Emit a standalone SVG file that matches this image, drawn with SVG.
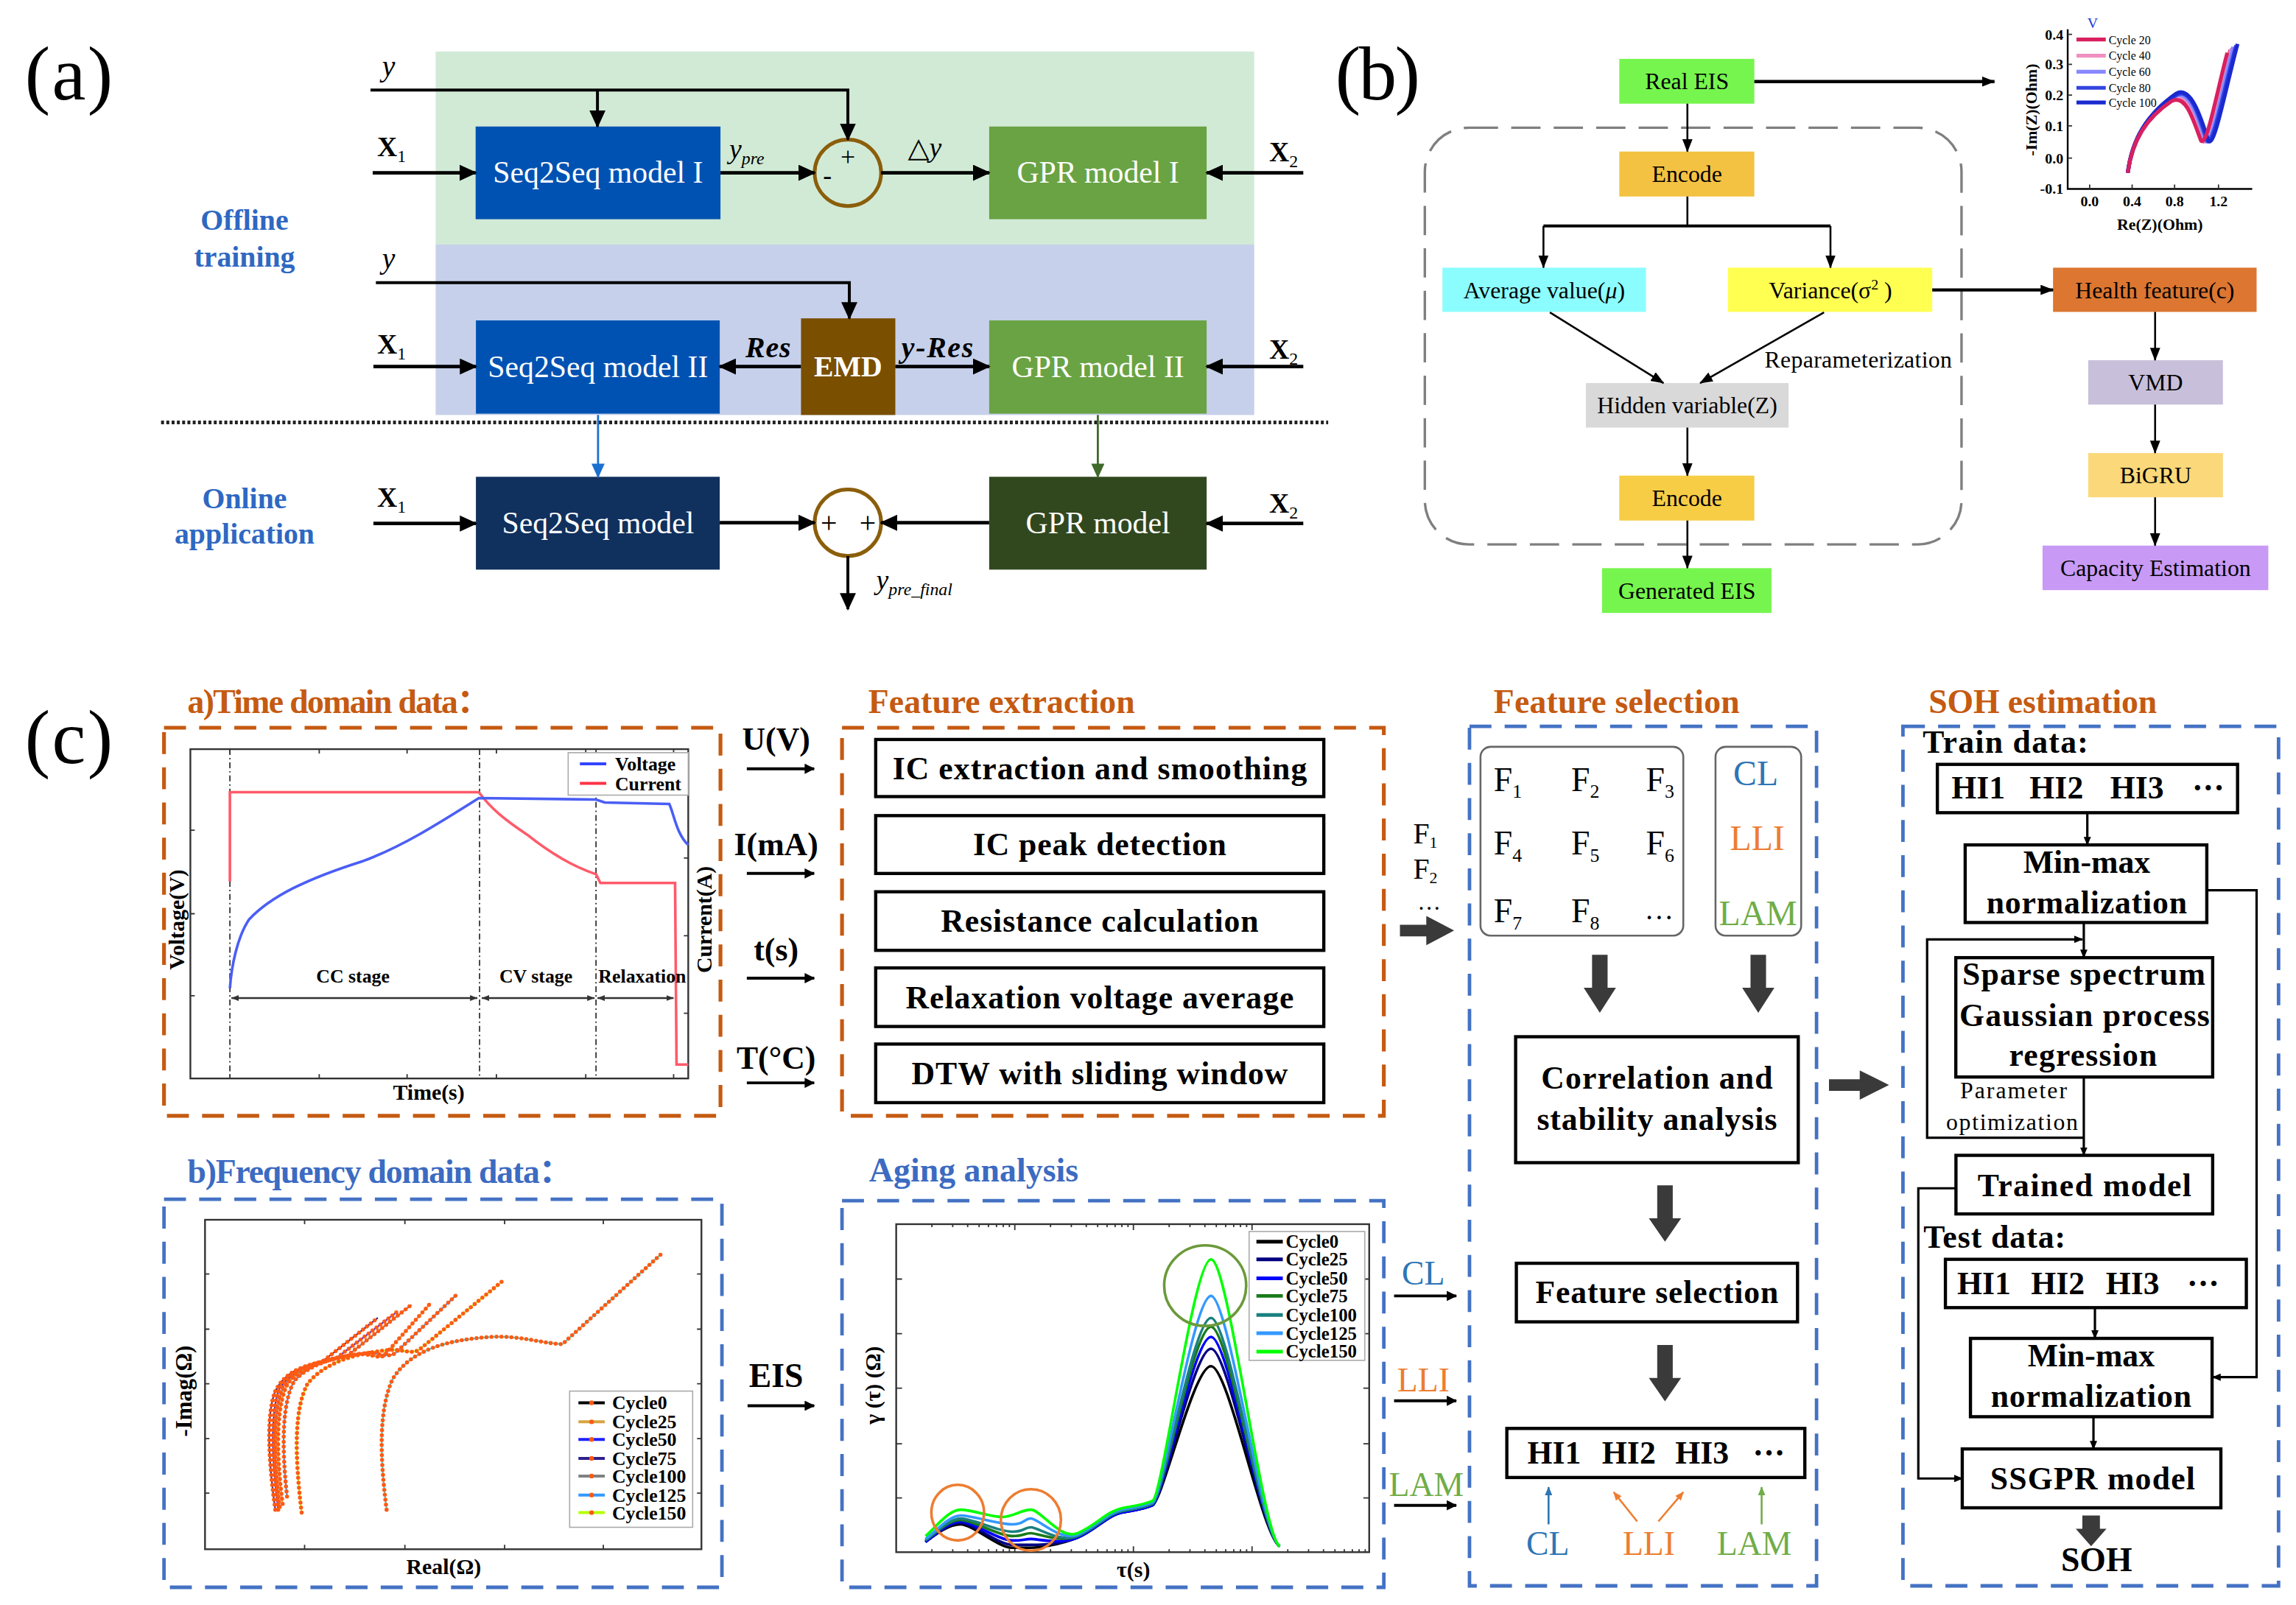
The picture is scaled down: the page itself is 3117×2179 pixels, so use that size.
<svg xmlns="http://www.w3.org/2000/svg" width="3117" height="2179" viewBox="0 0 3117 2179">
<defs>
<style>
text{font-family:"Liberation Serif","DejaVu Serif","Noto Sans CJK SC",serif;fill:#000}
.bd{font-weight:bold}
.it{font-style:italic}
.mid{text-anchor:middle}
.end{text-anchor:end}
.wt{fill:#fff;font-size:21px;text-anchor:middle}
.bt{font-size:16px;text-anchor:middle}
.ct{font-size:22px;font-weight:bold;text-anchor:middle}
.ln{fill:none;stroke:#000}
.box{fill:#fff;stroke:#000;stroke-width:2.2}
.odash{fill:none;stroke:#c55a11;stroke-width:2.6;stroke-dasharray:15 9}
.bdash{fill:none;stroke:#4472c4;stroke-width:2.4;stroke-dasharray:15 9}
.fat{fill:#3a3a3a}
.ttlO{fill:#c55a11;font-weight:bold;font-size:23px}
.ttlB{fill:#3c6bc2;font-weight:bold;font-size:23px}
.blu{fill:#2e75b6}.org{fill:#ed7d31}.grn{fill:#70ad47}
.lbl{font-weight:bold;font-size:22px;text-anchor:middle}
.pl{fill:#fff;stroke:#333;stroke-width:1.2}
.leg{fill:#fff;stroke:#aaa;stroke-width:0.8}
.lt{font-weight:bold;font-size:13px}
.dots{fill:none;stroke:#ff5a14;stroke-width:2.8;stroke-dasharray:0 3.4;stroke-linecap:round}
.tk{fill:none;stroke:#333;stroke-width:0.9}
</style>
<marker id="mA" viewBox="0 0 12 11" refX="11" refY="5.5" markerWidth="12" markerHeight="11" markerUnits="userSpaceOnUse" orient="auto"><path d="M0,0L12,5.5L0,11z" fill="#000"/></marker>
<marker id="mAb" viewBox="0 0 10 9" refX="9" refY="4.5" markerWidth="10" markerHeight="9" markerUnits="userSpaceOnUse" orient="auto"><path d="M0,0L10,4.5L0,9z" fill="#1a6fd0"/></marker>
<marker id="mAg" viewBox="0 0 10 9" refX="9" refY="4.5" markerWidth="10" markerHeight="9" markerUnits="userSpaceOnUse" orient="auto"><path d="M0,0L10,4.5L0,9z" fill="#3f6a2a"/></marker>
<marker id="mB" viewBox="0 0 9 7" refX="8.5" refY="3.5" markerWidth="9" markerHeight="7" markerUnits="userSpaceOnUse" orient="auto"><path d="M0,0L9,3.5L0,7z" fill="#000"/></marker>
<marker id="mC" viewBox="0 0 7 7" refX="6.5" refY="3.5" markerWidth="7" markerHeight="7" markerUnits="userSpaceOnUse" orient="auto"><path d="M0,0L7,3.5L0,7z" fill="#000"/></marker>
<marker id="mS" viewBox="0 0 6 5" refX="5.5" refY="2.5" markerWidth="6" markerHeight="5" markerUnits="userSpaceOnUse" orient="auto"><path d="M0,0L6,2.5L0,5z" fill="#000"/></marker>
<marker id="mD" viewBox="0 0 5 4" refX="5" refY="2" markerWidth="5" markerHeight="4" markerUnits="userSpaceOnUse" orient="auto-start-reverse"><path d="M0,0L5,2L0,4z" fill="#333"/></marker>
<marker id="mCb" viewBox="0 0 6 5" refX="5.5" refY="2.5" markerWidth="6" markerHeight="5" markerUnits="userSpaceOnUse" orient="auto"><path d="M0,0L6,2.5L0,5z" fill="#2e75b6"/></marker>
<marker id="mCo" viewBox="0 0 6 5" refX="5.5" refY="2.5" markerWidth="6" markerHeight="5" markerUnits="userSpaceOnUse" orient="auto"><path d="M0,0L6,2.5L0,5z" fill="#ed7d31"/></marker>
<marker id="mCg" viewBox="0 0 6 5" refX="5.5" refY="2.5" markerWidth="6" markerHeight="5" markerUnits="userSpaceOnUse" orient="auto"><path d="M0,0L6,2.5L0,5z" fill="#70ad47"/></marker>
</defs>
<rect x="0" y="0" width="3117" height="2179" fill="#fff"/>
<g transform="scale(1.988)">

<!-- ================= PANEL (a) ================= -->
<g id="a-panel">
<text x="17" y="68" font-size="52" textLength="60">(a)</text>
<rect id="a-band-offline" x="297.5" y="35.2" width="559" height="131.8" fill="#d1ead6"/>
<rect id="a-band-blue" x="297.5" y="167" width="559" height="116.4" fill="#c6d0ea"/>
<text x="167" y="157" class="bd mid" font-size="20" style="fill:#2e68c2">Offline</text>
<text x="167" y="182" class="bd mid" font-size="20" style="fill:#2e68c2">training</text>
<text x="167" y="347" class="bd mid" font-size="20" style="fill:#2e68c2">Online</text>
<text x="167" y="371" class="bd mid" font-size="20" style="fill:#2e68c2">application</text>
<text x="261" y="52" class="it" font-size="20">y</text>
<text x="261" y="183" class="it" font-size="20">y</text>
<text x="257.6" y="106.5" class="bd" font-size="19">X<tspan font-size="12" font-weight="normal" dy="4">1</tspan></text>
<text x="257.6" y="241.5" class="bd" font-size="19">X<tspan font-size="12" font-weight="normal" dy="4">1</tspan></text>
<text x="257.6" y="346" class="bd" font-size="19">X<tspan font-size="12" font-weight="normal" dy="4">1</tspan></text>
<text x="866.7" y="110" class="bd" font-size="19">X<tspan font-size="12" font-weight="normal" dy="4">2</tspan></text>
<text x="866.7" y="244.8" class="bd" font-size="19">X<tspan font-size="12" font-weight="normal" dy="4">2</tspan></text>
<text x="866.7" y="350" class="bd" font-size="19">X<tspan font-size="12" font-weight="normal" dy="4">2</tspan></text>
<text x="498" y="108" class="it" font-size="19">y<tspan font-size="12" dy="4">pre</tspan></text>
<text x="620" y="107" font-size="19">△<tspan class="it">y</tspan></text>
<text x="509" y="244" class="bd it" font-size="20" textLength="31">Res</text>
<text x="615.6" y="244" class="bd it" font-size="20" textLength="49">y-Res</text>
<text x="598.4" y="402.4" class="it" font-size="19">y<tspan font-size="12" dy="4">pre_final</tspan></text>
</g>

<g id="a-seq2seq1"><rect x="324.8" y="86.4" width="167.2" height="63.3" fill="#0052b2"/><text x="408.4" y="125" class="wt">Seq2Seq model I</text></g>
<g id="a-gpr1"><rect x="675.5" y="86.4" width="148.5" height="63.3" fill="#6aa343"/><text x="749.8" y="125" class="wt">GPR model I</text></g>
<g id="a-sum1"><circle cx="579" cy="118" r="22.7" fill="none" stroke="#8b5e0a" stroke-width="2.5"/><text x="579" y="113" class="mid" font-size="18">+</text><text x="565" y="126" class="mid" font-size="18">-</text></g>
<g id="a-seq2seq2"><rect x="325" y="218.8" width="166.5" height="63.7" fill="#0052b2"/><text x="408.4" y="257.6" class="wt">Seq2Seq model II</text></g>
<g id="a-emd"><rect x="547" y="217.4" width="64.4" height="66" fill="#7a4f00"/><text x="579.2" y="257" class="wt" style="font-size:20px;font-weight:bold">EMD</text></g>
<g id="a-gpr2"><rect x="675.5" y="218.8" width="148.5" height="63.7" fill="#6aa343"/><text x="749.8" y="257.6" class="wt">GPR model II</text></g>
<g id="a-seq2seq"><rect x="325" y="325.6" width="166.5" height="63.4" fill="#10305e"/><text x="408.4" y="364.3" class="wt">Seq2Seq model</text></g>
<g id="a-gpr"><rect x="675.5" y="325.6" width="148.5" height="63.4" fill="#31481f"/><text x="749.8" y="364.3" class="wt">GPR model</text></g>
<g id="a-sum2"><circle cx="579" cy="357" r="22.7" fill="none" stroke="#8b5e0a" stroke-width="2.5"/><text x="566" y="363.5" class="mid" font-size="20">+</text><text x="592.5" y="363.5" class="mid" font-size="20">+</text></g>

<!-- ================= PANEL (b) ================= -->
<g id="b-panel">
<text x="911.8" y="68" font-size="52" textLength="58">(b)</text>
<rect id="b-vae-frame" x="973" y="87.2" width="366.5" height="284.6" rx="30" ry="30" fill="none" stroke="#7f7f7f" stroke-width="1.7" stroke-dasharray="20 9"/>
<text x="1205" y="251" font-size="16" textLength="128">Reparameterization</text>
</g>
<g id="b-real"><rect x="1105.8" y="40.2" width="92.2" height="30.6" fill="#76f54e"/><text x="1152" y="61" class="bt">Real EIS</text></g>
<g id="b-encode1"><rect x="1105.8" y="103.5" width="92.2" height="30.7" fill="#f4c242"/><text x="1152" y="124.3" class="bt">Encode</text></g>
<g id="b-avg"><rect x="985" y="182.8" width="139" height="30.2" fill="#8cfdff"/><text x="1054.5" y="203.5" class="bt">Average value(<tspan class="it">μ</tspan>)</text></g>
<g id="b-var"><rect x="1180" y="182.8" width="139.5" height="30.2" fill="#ffff52"/><text x="1250" y="203.5" class="bt">Variance(σ<tspan font-size="10" dy="-6">2</tspan><tspan dy="6"> )</tspan></text></g>
<g id="b-health"><rect x="1402" y="182.8" width="139" height="30.2" fill="#dc7631"/><text x="1471.5" y="203.5" class="bt">Health feature(c)</text></g>
<g id="b-hidden"><rect x="1083" y="261.6" width="138.4" height="30.4" fill="#d9d9d9"/><text x="1152.2" y="282.3" class="bt">Hidden variable(Z)</text></g>
<g id="b-encode2"><rect x="1105.8" y="324.8" width="92.2" height="30.7" fill="#f7cd46"/><text x="1152" y="345.7" class="bt">Encode</text></g>
<g id="b-generated"><rect x="1094" y="388" width="115.7" height="30.6" fill="#76f54e"/><text x="1152" y="408.8" class="bt">Generated EIS</text></g>
<g id="b-vmd"><rect x="1426" y="246" width="92" height="30.3" fill="#c8c0da"/><text x="1472" y="266.7" class="bt">VMD</text></g>
<g id="b-bigru"><rect x="1426" y="309.4" width="92" height="30.2" fill="#fbd87a"/><text x="1472" y="330" class="bt">BiGRU</text></g>
<g id="b-capacity"><rect x="1394.8" y="372.6" width="154.2" height="30.4" fill="#c89af6"/><text x="1472" y="393.3" class="bt">Capacity Estimation</text></g>
<g id="b-inset">
<path class="ln" stroke-width="1.2" d="M1412,20V129H1538"/>
<path class="tk" d="M1412,23.5h3M1412,44h3M1412,65h3M1412,86h3M1412,108h3M1427,129v-3M1456,129v-3M1485,129v-3M1515,129v-3"/>
<g font-size="10" font-weight="bold" text-anchor="end">
<text x="1409" y="27">0.4</text><text x="1409" y="47.5">0.3</text><text x="1409" y="68.5">0.2</text><text x="1409" y="89.5">0.1</text><text x="1409" y="111.5">0.0</text><text x="1409" y="132.5">-0.1</text>
</g>
<g font-size="10" font-weight="bold" text-anchor="middle">
<text x="1427" y="141">0.0</text><text x="1456" y="141">0.4</text><text x="1485" y="141">0.8</text><text x="1515" y="141">1.2</text>
</g>
<text x="1475" y="157" class="bd mid" font-size="11">Re(Z)(Ohm)</text>
<text x="1391" y="75" class="bd mid" font-size="11" transform="rotate(-90 1391 75)">-Im(Z)(Ohm)</text>
<text x="1429" y="19" class="mid" font-size="10" style="fill:#2233dd">V</text>
<g fill="none" stroke-width="2.6">
<path stroke="#e04888" d="M1453,118C1456,96 1466,80 1484,68C1494,62 1499,82 1504,96C1508,102 1515,62 1523,34"/>
<path stroke="#f090c0" d="M1453,118C1456,96 1466,79 1485,67C1495,61 1500,82 1505,96C1509,102 1516,62 1524,33"/>
<path stroke="#8888ff" d="M1453,118C1456,95 1466,79 1485,66C1495,60 1501,81 1506,96C1510,102 1517,63 1525,32"/>
<path stroke="#3344e0" d="M1453,118C1456,95 1466,78 1486,65C1496,59 1502,80 1507,96C1511,102 1518,63 1527,31"/>
<path stroke="#1a2ad0" d="M1453,118C1456,95 1466,78 1486,64C1496,58 1503,80 1508,96C1512,102 1519,64 1528,30"/>
<path stroke="#d82060" d="M1453,118C1456,96 1465,81 1483,69C1493,64 1498,83 1503,96C1507,101 1514,62 1521,36"/>
</g>
<g stroke-width="2.6">
<path stroke="#d82060" d="M1418,27H1438"/><path stroke="#f090c0" d="M1418,38H1438"/><path stroke="#8888ff" d="M1418,49H1438"/><path stroke="#3344e0" d="M1418,60H1438"/><path stroke="#1a2ad0" d="M1418,70H1438"/>
</g>
<g font-size="8">
<text x="1440" y="30">Cycle 20</text><text x="1440" y="41">Cycle 40</text><text x="1440" y="52">Cycle 60</text><text x="1440" y="63">Cycle 80</text><text x="1440" y="73">Cycle 100</text>
</g>
</g>

<!-- ================= PANEL (c) ================= -->
<g id="c-panel">
<text x="17" y="521" font-size="52" textLength="60">(c)</text>
<text x="128" y="487" class="ttlO" textLength="207">a)Time domain data：</text>
<text x="593" y="487" class="ttlO" textLength="182">Feature extraction</text>
<text x="1020" y="487" class="ttlO" textLength="168">Feature selection</text>
<text x="1317" y="487" class="ttlO" textLength="156">SOH estimation</text>
<text x="128" y="808" class="ttlB" textLength="263">b)Frequency domain data：</text>
<text x="593.5" y="807" class="ttlB" textLength="143">Aging analysis</text>
<rect class="odash" x="112" y="497" width="380" height="265"/>
<rect class="odash" x="575" y="497" width="370" height="265"/>
<rect class="bdash" x="1003.5" y="496" width="237" height="587"/>
<rect class="bdash" x="1299.5" y="496" width="256.5" height="587"/>
<rect class="bdash" x="112" y="819" width="381" height="265"/>
<rect class="bdash" x="575" y="820" width="370" height="264"/>
<text x="530" y="512" class="lbl">U(V)</text>
<text x="530" y="584" class="lbl">I(mA)</text>
<text x="530" y="656" class="lbl">t(s)</text>
<text x="530" y="730" class="lbl">T(°C)</text>
<text x="530" y="947" class="lbl" style="font-size:23px">EIS</text>
<text x="972" y="877.5" class="mid blu" font-size="23">CL</text>
<text x="972" y="950" class="mid org" font-size="23">LLI</text>
<text x="974" y="1021.6" class="mid grn" font-size="23">LAM</text>
<text x="965" y="576" font-size="20">F<tspan font-size="11" dy="3">1</tspan></text>
<text x="965" y="600" font-size="20">F<tspan font-size="11" dy="3">2</tspan></text>
<text x="976" y="621" class="mid" font-size="16">…</text>
</g>

<!-- time domain chart -->
<g id="c-time-chart">
<rect class="pl" x="130" y="511.6" width="340" height="224.9"/>
<path class="tk" d="M157,736.5v-3M218,736.5v-3M278,736.5v-3M339,736.5v-3M400,736.5v-3M460,736.5v-3M157,511.6v3M218,511.6v3M278,511.6v3M339,511.6v3M400,511.6v3M460,511.6v3M130,567h3M130,624h3M130,680h3M470,586h-3M470,639h-3M470,692h-3"/>
<path fill="none" stroke="#333" stroke-width="0.9" stroke-dasharray="4 2 1 2" d="M157,511.6V736.5M327.5,511.6V736.5M407,511.6V736.5"/>
<path fill="none" stroke="#ff5a6a" stroke-width="1.8" d="M157,602L157,541L327,541C335,552 345,560 360,570C375,582 392,592 407,597L410,603L461,603L462,727L470,727"/>
<path fill="none" stroke="#4a5ef5" stroke-width="1.8" d="M157,675C158,660 162,640 170,628C185,612 210,600 248,588C275,578 300,562 327,545L407,546L413,548L457,549C460,555 462,570 470,577"/>
<rect class="leg" x="388" y="514" width="82" height="29"/>
<path stroke="#3344ff" stroke-width="2" d="M396,521.6H414"/><path stroke="#ff3344" stroke-width="2" d="M396,535H414"/>
<text x="420" y="526" class="lt">Voltage</text><text x="420" y="539.5" class="lt">Current</text>
<text x="241" y="671" class="lt mid">CC stage</text>
<text x="366" y="671" class="lt mid">CV stage</text>
<text x="438.6" y="671" class="lt mid">Relaxation</text>
<path fill="none" stroke="#333" stroke-width="1.2" marker-start="url(#mD)" marker-end="url(#mD)" d="M158,681.6H326"/>
<path fill="none" stroke="#333" stroke-width="1.2" marker-start="url(#mD)" marker-end="url(#mD)" d="M329,681.6H406"/>
<path fill="none" stroke="#333" stroke-width="1.2" marker-start="url(#mD)" marker-end="url(#mD)" d="M408,681.6H460"/>
<text x="126" y="628" class="bd mid" font-size="15" transform="rotate(-90 126 628)">Voltage(V)</text>
<text x="486" y="628" class="bd mid" font-size="15" transform="rotate(-90 486 628)">Current(A)</text>
<text x="292.8" y="751" class="bd mid" font-size="15">Time(s)</text>
</g>

<!-- frequency domain chart -->
<g id="c-eis-chart">
<rect class="pl" x="140" y="833" width="339" height="225"/>
<path class="tk" d="M208,1058v-3M276.5,1058v-3M344.6,1058v-3M412,1058v-3M208,833v3M276.5,833v3M344.6,833v3M412,833v3M140,870h3M140,907.7h3M140,945h3M140,982.5h3M140,1019.7h3M479,870h-3M479,907.7h-3M479,945h-3M479,982.5h-3M479,1019.7h-3"/>
<g fill="none" stroke-width="1.1">
<path stroke="#30208a" d="M188,1031C183,995 182,965 188,950C194,938 205,933 220,930L258,900"/>
<path stroke="#2020ff" d="M190,1031C185,993 185,962 191,948C199,936 212,931 229,928L271,896"/>
<path stroke="#808080" d="M191,1029C186,990 187,960 194,946C203,934 218,929 237,926L281,891"/>
<path stroke="#d9a441" d="M193,1027C188,988 189,958 197,944C207,933 224,928 244,925C252,924 258,928 262,926L294,890"/>
<path stroke="#3399ff" d="M196,1022C192,985 193,957 201,943C212,931 231,926 250,924C258,923 264,928 270,924L312,884"/>
<path stroke="#b8ff00" d="M206,1033C201,992 201,962 210,945C222,930 244,924 265,922C275,921 280,925 286,922L343,875"/>
<path stroke="#30e0e0" d="M264,1031C259,992 259,962 268,942C280,922 305,915 335,913C355,912 368,917 384,918L452,856"/>
</g>
<g class="dots">
<path d="M188,1031C183,995 182,965 188,950C194,938 205,933 220,930L258,900"/>
<path d="M190,1031C185,993 185,962 191,948C199,936 212,931 229,928L271,896"/>
<path d="M191,1029C186,990 187,960 194,946C203,934 218,929 237,926L281,891"/>
<path d="M193,1027C188,988 189,958 197,944C207,933 224,928 244,925C252,924 258,928 262,926L294,890"/>
<path d="M196,1022C192,985 193,957 201,943C212,931 231,926 250,924C258,923 264,928 270,924L312,884"/>
<path d="M206,1033C201,992 201,962 210,945C222,930 244,924 265,922C275,921 280,925 286,922L343,875"/>
<path d="M264,1031C259,992 259,962 268,942C280,922 305,915 335,913C355,912 368,917 384,918L452,856"/>
</g>
<rect class="leg" x="389" y="950" width="84" height="93"/>
<g stroke-width="2">
<path stroke="#000" d="M395,958H413"/><path stroke="#d9a441" d="M395,971H413"/><path stroke="#2020ff" d="M395,983H413"/><path stroke="#30208a" d="M395,996H413"/><path stroke="#808080" d="M395,1008H413"/><path stroke="#3399ff" d="M395,1021H413"/><path stroke="#b8ff00" d="M395,1033H413"/>
</g>
<g fill="#ff5a14"><circle cx="404" cy="958" r="1.6"/><circle cx="404" cy="971" r="1.6"/><circle cx="404" cy="983" r="1.6"/><circle cx="404" cy="996" r="1.6"/><circle cx="404" cy="1008" r="1.6"/><circle cx="404" cy="1021" r="1.6"/><circle cx="404" cy="1033" r="1.6"/></g>
<text x="418" y="962.5" class="lt">Cycle0</text><text x="418" y="975.5" class="lt">Cycle25</text><text x="418" y="987.5" class="lt">Cycle50</text><text x="418" y="1000.5" class="lt">Cycle75</text><text x="418" y="1012.5" class="lt">Cycle100</text><text x="418" y="1025.5" class="lt">Cycle125</text><text x="418" y="1037.5" class="lt">Cycle150</text>
<text x="131" y="950" class="bd mid" font-size="15.5" transform="rotate(-90 131 950)">-Imag(Ω)</text>
<text x="303" y="1075" class="bd mid" font-size="15">Real(Ω)</text>
</g>

<!-- aging analysis chart -->
<g id="c-drt-chart">
<rect class="pl" x="612" y="836" width="323" height="224"/>
<path class="tk" d="M693,1060v-4M774,1060v-4M855,1060v-4M693,836v4M774,836v4M855,836v4M612,873.5h4M612,910.8h4M612,948h4M612,986h4M612,1023h4M935,873.5h-4M935,910.8h-4M935,948h-4M935,986h-4M935,1023h-4"/>
<path class="tk" stroke-width="0.7" d="M636.4,1060v-2M650.6,1060v-2M660.8,1060v-2M668.6,1060v-2M675,1060v-2M680.5,1060v-2M685.1,1060v-2M689.3,1060v-2M717.4,1060v-2M731.6,1060v-2M741.8,1060v-2M749.6,1060v-2M756,1060v-2M761.5,1060v-2M766.1,1060v-2M770.3,1060v-2M798.4,1060v-2M812.6,1060v-2M822.8,1060v-2M830.6,1060v-2M837,1060v-2M842.5,1060v-2M847.1,1060v-2M851.3,1060v-2M879.4,1060v-2M893.6,1060v-2M903.8,1060v-2M911.6,1060v-2M918,1060v-2M923.5,1060v-2M928.1,1060v-2M932.3,1060v-2M636.4,836v2M650.6,836v2M660.8,836v2M668.6,836v2M675,836v2M680.5,836v2M685.1,836v2M689.3,836v2M717.4,836v2M731.6,836v2M741.8,836v2M749.6,836v2M756,836v2M761.5,836v2M766.1,836v2M770.3,836v2M798.4,836v2M812.6,836v2M822.8,836v2M830.6,836v2M837,836v2M842.5,836v2M847.1,836v2M851.3,836v2"/>
<g fill="none" stroke-width="1.8">
<path stroke="#000000" d="M632,1053C640,1047 648,1041 656,1041S682,1057 691,1057S699,1057 704,1057S724,1055 736,1050S756,1035 766,1033S780,1031 787,1028S815,933 827,933S862,1050 874,1056"/>
<path stroke="#000080" d="M632,1053C640,1047 648,1040 656,1040S682,1055 691,1055S699,1055 704,1055S724,1055 736,1050S756,1035 766,1033S780,1031 787,1028S815,921 827,921S862,1050 874,1056"/>
<path stroke="#0000ff" d="M632,1053C640,1047 648,1039 656,1039S682,1052 691,1052S699,1051 704,1051S724,1055 736,1050S756,1035 766,1033S780,1031 787,1028S815,913 827,913S862,1050 874,1056"/>
<path stroke="#1a7a1a" d="M632,1052C640,1046 648,1038 656,1038S682,1049 691,1049S699,1047 704,1047S724,1054 736,1049S756,1034 766,1032S780,1030 787,1027S815,906 827,906S862,1050 874,1056"/>
<path stroke="#1a8080" d="M632,1052C640,1046 648,1037 656,1037S682,1046 691,1046S699,1043 704,1043S724,1054 736,1049S756,1034 766,1032S780,1030 787,1027S815,900 827,900S862,1050 874,1056"/>
<path stroke="#3399ff" d="M632,1051C640,1045 648,1035 656,1035S682,1041 691,1041S699,1037 704,1037S724,1053 736,1048S756,1033 766,1031S780,1029 787,1026S815,885 827,885S862,1050 874,1056"/>
<path stroke="#00ff00" d="M632,1049C640,1042 648,1031 656,1031S676,1036 684,1036S697,1031 704,1031S724,1052 736,1047S756,1032 766,1030S780,1028 787,1025S815,860 827,860S862,1050 874,1056"/>
</g>
<ellipse cx="654" cy="1033" rx="18" ry="19" fill="none" stroke="#ed7d31" stroke-width="1.8"/>
<ellipse cx="704" cy="1038" rx="20.5" ry="21" fill="none" stroke="#ed7d31" stroke-width="1.8"/>
<ellipse cx="823" cy="878" rx="28" ry="27.5" fill="none" stroke="#6b9a3a" stroke-width="1.8"/>
<rect class="leg" x="853" y="841" width="79" height="88"/>
<g stroke-width="2.5">
<path stroke="#000" d="M858,848H876"/><path stroke="#000080" d="M858,860H876"/><path stroke="#0000ff" d="M858,873H876"/><path stroke="#1a7a1a" d="M858,885H876"/><path stroke="#1a8080" d="M858,898H876"/><path stroke="#3399ff" d="M858,910.5H876"/><path stroke="#00ff00" d="M858,923H876"/>
</g>
<g font-weight="bold" font-size="12.5">
<text x="878" y="852.3">Cycle0</text><text x="878" y="864.3">Cycle25</text><text x="878" y="877.3">Cycle50</text><text x="878" y="889.3">Cycle75</text><text x="878" y="902.3">Cycle100</text><text x="878" y="914.8">Cycle125</text><text x="878" y="927.3">Cycle150</text>
</g>
<text x="601" y="946" class="bd mid" font-size="15" transform="rotate(-90 601 946)">γ (τ) (Ω)</text>
<text x="774" y="1077" class="bd mid" font-size="15">τ(s)</text>
</g>

<!-- feature extraction boxes -->
<g id="c-fe1"><rect class="box" x="598" y="505" width="306" height="39"/><text x="751" y="532" class="ct" textLength="283">IC extraction and smoothing</text></g>
<g id="c-fe2"><rect class="box" x="598" y="557" width="306" height="39.5"/><text x="751" y="584" class="ct" textLength="173">IC peak detection</text></g>
<g id="c-fe3"><rect class="box" x="598" y="609" width="306" height="40"/><text x="751" y="636.5" class="ct" textLength="217">Resistance calculation</text></g>
<g id="c-fe4"><rect class="box" x="598" y="661" width="306" height="40"/><text x="751" y="688.5" class="ct" textLength="265">Relaxation voltage average</text></g>
<g id="c-fe5"><rect class="box" x="598" y="713" width="306" height="40"/><text x="751" y="740.5" class="ct" textLength="257">DTW with sliding window</text></g>

<!-- feature selection -->
<g id="c-fgrid">
<rect x="1011" y="510" width="138.5" height="129" rx="7" fill="none" stroke="#666" stroke-width="1.3"/>
<g font-size="23">
<text x="1020" y="540">F<tspan font-size="13" dy="5">1</tspan></text><text x="1073" y="540">F<tspan font-size="13" dy="5">2</tspan></text><text x="1124" y="540">F<tspan font-size="13" dy="5">3</tspan></text>
<text x="1020" y="583.5">F<tspan font-size="13" dy="5">4</tspan></text><text x="1073" y="583.5">F<tspan font-size="13" dy="5">5</tspan></text><text x="1124" y="583.5">F<tspan font-size="13" dy="5">6</tspan></text>
<text x="1020" y="630">F<tspan font-size="13" dy="5">7</tspan></text><text x="1073" y="630">F<tspan font-size="13" dy="5">8</tspan></text>
</g>
<text x="1133" y="628" class="mid" font-size="20">…</text>
</g>
<g id="c-mech">
<rect x="1171.5" y="510" width="58.5" height="129" rx="7" fill="none" stroke="#666" stroke-width="1.3"/>
<text x="1199" y="536" class="mid blu" font-size="24">CL</text>
<text x="1200" y="580.5" class="mid org" font-size="24">LLI</text>
<text x="1200.5" y="632" class="mid grn" font-size="24">LAM</text>
</g>
<g id="c-corr"><rect class="box" x="1035" y="708" width="193" height="86"/><text x="1131.5" y="743.5" class="ct" textLength="158">Correlation and</text><text x="1131.5" y="771.7" class="ct" textLength="164">stability analysis</text></g>
<g id="c-fsel"><rect class="box" x="1035.5" y="862.7" width="192" height="40"/><text x="1131.5" y="890" class="ct" textLength="166">Feature selection</text></g>
<g id="c-hi"><rect class="box" x="1029" y="975.5" width="203.5" height="33.5"/><text x="1043" y="999.6" class="ct" style="text-anchor:start">HI1</text><text x="1094" y="999.6" class="ct" style="text-anchor:start">HI2</text><text x="1144" y="999.6" class="ct" style="text-anchor:start">HI3</text><text x="1208" y="999.6" class="ct">···</text></g>
<g id="c-hi-labels">
<text x="1057" y="1062" class="mid blu" font-size="23">CL</text>
<text x="1126" y="1062" class="mid org" font-size="23">LLI</text>
<text x="1198" y="1062" class="mid grn" font-size="23">LAM</text>
</g>

<!-- SOH estimation -->
<g id="c-soh">
<text x="1313" y="514" class="bd" font-size="22" textLength="113">Train data:</text>
<text x="1313.5" y="852" class="bd" font-size="22" textLength="97">Test data:</text>
<text x="1375" y="750" class="mid" font-size="16" textLength="73">Parameter</text>
<text x="1374" y="771.7" class="mid" font-size="16" textLength="90">optimization</text>
<text x="1431.7" y="1073" class="ct" style="font-size:23px">SOH</text>
</g>
<g id="c-hi-train"><rect class="box" x="1323" y="522" width="205" height="33"/><text x="1332.6" y="545.5" class="ct" style="text-anchor:start">HI1</text><text x="1386" y="545.5" class="ct" style="text-anchor:start">HI2</text><text x="1441" y="545.5" class="ct" style="text-anchor:start">HI3</text><text x="1508" y="545.5" class="ct">···</text></g>
<g id="c-minmax1"><rect class="box" x="1342" y="577" width="165" height="53"/><text x="1425" y="596" class="ct">Min-max</text><text x="1425" y="623.8" class="ct" textLength="137">normalization</text></g>
<g id="c-ssgp"><rect class="box" x="1335.6" y="654" width="175.4" height="81.5"/><text x="1423" y="672.6" class="ct" textLength="166">Sparse spectrum</text><text x="1423.5" y="700.7" class="ct" textLength="171">Gaussian process</text><text x="1422.5" y="728" class="ct" textLength="101">regression</text></g>
<g id="c-trained"><rect class="box" x="1335.7" y="789" width="175.3" height="40"/><text x="1423.5" y="817" class="ct" textLength="146">Trained model</text></g>
<g id="c-hi-test"><rect class="box" x="1328.5" y="860" width="205.5" height="33"/><text x="1336.5" y="884" class="ct" style="text-anchor:start">HI1</text><text x="1387" y="884" class="ct" style="text-anchor:start">HI2</text><text x="1438" y="884" class="ct" style="text-anchor:start">HI3</text><text x="1504.5" y="884" class="ct">···</text></g>
<g id="c-minmax2"><rect class="box" x="1345.6" y="914" width="165" height="53.5"/><text x="1428" y="933" class="ct">Min-max</text><text x="1428" y="961" class="ct" textLength="137">normalization</text></g>
<g id="c-ssgpr"><rect class="box" x="1340" y="989.5" width="176.6" height="40.2"/><text x="1429" y="1017" class="ct" textLength="140">SSGPR model</text></g>

<!-- ================= CONNECTORS ================= -->
<g id="connectors">
<g class="ln" stroke-width="2">
<path d="M253,61.5H579V95.3" marker-end="url(#mA)"/>
<path d="M408,61.5V86.4" marker-end="url(#mA)"/>
<path d="M256.7,193H580V217.4" marker-end="url(#mA)"/>
</g>
<g class="ln" stroke-width="2.4">
<path d="M254.5,118H324.8" marker-end="url(#mA)"/>
<path d="M492,118H556.3" marker-end="url(#mA)"/>
<path d="M601.7,118H675.5" marker-end="url(#mA)"/>
<path d="M890,118H824" marker-end="url(#mA)"/>
<path d="M255,250.3H325" marker-end="url(#mA)"/>
<path d="M547,250.3H491.5" marker-end="url(#mA)"/>
<path d="M611.4,250.3H675.5" marker-end="url(#mA)"/>
<path d="M890,250.3H824" marker-end="url(#mA)"/>
<path d="M255,357.5H325" marker-end="url(#mA)"/>
<path d="M491.5,357H556.3" marker-end="url(#mA)"/>
<path d="M675.5,357H601.7" marker-end="url(#mA)"/>
<path d="M890,357.5H824" marker-end="url(#mA)"/>
</g>
<path class="ln" stroke-width="2" d="M579,379.7V416" marker-end="url(#mA)"/>
<path fill="none" stroke="#222" stroke-width="2.6" stroke-dasharray="2 1.6" d="M110,288.5H907"/>
<path fill="none" stroke="#1a6fd0" stroke-width="1.4" d="M408.4,283.4V325.6" marker-end="url(#mAb)"/>
<path fill="none" stroke="#3f6a2a" stroke-width="1.4" d="M749.7,283.4V325.6" marker-end="url(#mAg)"/>
<path class="ln" stroke-width="2.2" d="M1198,55.7H1362" marker-end="url(#mB)"/>
<g class="ln" stroke-width="1.3">
<path d="M1152.3,70.8V103.5" marker-end="url(#mB)"/>
<path d="M1152.3,134.2V154.3"/>
<path d="M1054,154.3H1250" stroke-width="2"/>
<path d="M1054,154.3V182.8" marker-end="url(#mB)"/>
<path d="M1250,154.3V182.8" marker-end="url(#mB)"/>
<path d="M1058.4,213.3L1136,261.6" marker-end="url(#mB)"/>
<path d="M1245.6,213.3L1161,261.6" marker-end="url(#mB)"/>
<path d="M1152.3,292V324.8" marker-end="url(#mB)"/>
<path d="M1152.3,355.5V388" marker-end="url(#mB)"/>
<path d="M1471.7,213V246" marker-end="url(#mB)"/>
<path d="M1471.7,276.3V309.4" marker-end="url(#mB)"/>
<path d="M1471.7,339.6V372.6" marker-end="url(#mB)"/>
</g>
<path class="ln" stroke-width="2.2" d="M1319.5,198H1402" marker-end="url(#mB)"/>
<g class="ln" stroke-width="2">
<path d="M510,525H556" marker-end="url(#mC)"/>
<path d="M510,596.5H556" marker-end="url(#mC)"/>
<path d="M510,668H556" marker-end="url(#mC)"/>
<path d="M510,739.5H556" marker-end="url(#mC)"/>
<path d="M510.5,960H556" marker-end="url(#mC)"/>
<path d="M952,885H994.5" marker-end="url(#mC)"/>
<path d="M952,956.6H994.5" marker-end="url(#mC)"/>
<path d="M952,1028H994.5" marker-end="url(#mC)"/>
</g>
<polygon class="fat" points="956,631.5 974,631.5 974,625.5 993,635.5 974,645.5 974,639.5 956,639.5"/>
<polygon class="fat" points="1249,737 1270,737 1270,731 1290,741 1270,751 1270,745 1249,745"/>
<polygon class="fat" points="1087.2,652 1097.8,652 1097.8,674.6 1103.5,674.6 1092.5,691.6 1081.5,674.6 1087.2,674.6"/>
<polygon class="fat" points="1195.4,652 1206,652 1206,674.6 1211.7,674.6 1200.7,691.6 1189.7,674.6 1195.4,674.6"/>
<polygon class="fat" points="1131.7,809.5 1142.3,809.5 1142.3,832 1148,832 1137,848 1126,832 1131.7,832"/>
<polygon class="fat" points="1131.7,918.5 1142.3,918.5 1142.3,941 1148,941 1137,957 1126,941 1131.7,941"/>
<polygon class="fat" points="1422,1035 1434,1035 1434,1044 1438.5,1044 1428,1056 1417.5,1044 1422,1044"/>
<g class="ln" stroke-width="1.6">
<path d="M1425.4,555V577" marker-end="url(#mS)"/>
<path d="M1507,608H1541V940.5H1511" marker-end="url(#mS)"/>
<path d="M1423,630V654" marker-end="url(#mS)"/>
<path d="M1423,735.5V789" marker-end="url(#mS)"/>
<path d="M1423,777H1316V641.5H1422" marker-end="url(#mS)"/>
<path d="M1335.7,811.5H1310V1009.7H1340" marker-end="url(#mS)"/>
<path d="M1430.6,893V914" marker-end="url(#mS)"/>
<path d="M1429.6,967.5V989.5" marker-end="url(#mS)"/>
</g>
<path fill="none" stroke="#2e75b6" stroke-width="1.3" d="M1057.5,1041V1015.6" marker-end="url(#mCb)"/>
<path fill="none" stroke="#ed7d31" stroke-width="1.3" d="M1118,1039L1102,1019" marker-end="url(#mCo)"/>
<path fill="none" stroke="#ed7d31" stroke-width="1.3" d="M1132.5,1039L1149.5,1019" marker-end="url(#mCo)"/>
<path fill="none" stroke="#70ad47" stroke-width="1.3" d="M1203,1041V1015.6" marker-end="url(#mCg)"/>
</g>
</g>
</svg>
